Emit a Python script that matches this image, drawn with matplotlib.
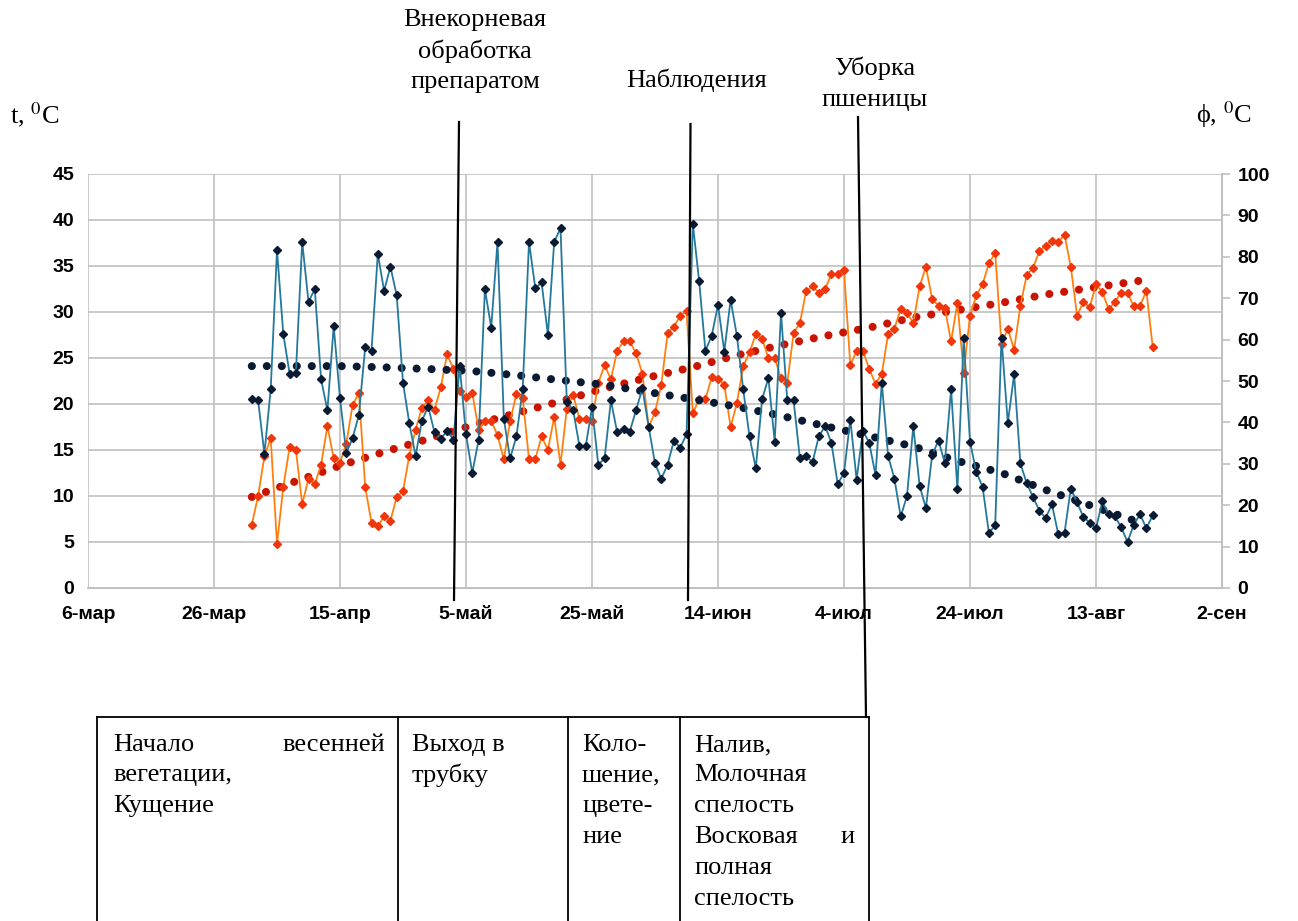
from datetime import date

import numpy as np
import pandas as pd
import matplotlib
matplotlib.use("Agg")
import matplotlib.pyplot as plt
from matplotlib.lines import Line2D

plt.rcParams["font.family"] = ["Liberation Sans", "DejaVu Sans"]
plt.rcParams["mathtext.fontset"] = "stix"

W, H = 1298, 921

# daily observations, 1 Apr .. 22 Aug
start = "2013-04-01"
temp = [6.9, 10.0, 14.3, 16.3, 4.8, 11.0, 15.3, 15.0, 9.1, 11.9, 11.3, 13.4, 17.6, 14.1, 13.6, 15.7,
        19.9, 21.2, 11.0, 7.1, 6.7, 7.8, 7.3, 9.9, 10.5, 14.4, 17.2, 19.6, 20.4, 19.4, 21.8, 25.4,
        23.8, 21.4, 20.8, 21.2, 17.2, 18.2, 18.2, 16.6, 14.0, 18.1, 21.1, 20.6, 14.0, 14.0, 16.5, 15.0,
        18.6, 13.4, 19.5, 21.0, 18.4, 18.4, 18.2, 22.3, 24.2, 22.7, 25.8, 26.8, 26.8, 25.5, 23.3, 17.5,
        19.1, 22.1, 27.7, 28.4, 29.6, 30.1, 19.0, 20.5, 20.5, 22.9, 22.7, 22.1, 17.5, 20.1, 24.1, 25.6,
        27.6, 27.1, 25.0, 25.0, 22.8, 22.3, 27.7, 28.8, 32.3, 32.8, 32.1, 32.5, 34.1, 34.1, 34.6, 24.2,
        25.8, 25.8, 23.8, 22.2, 23.3, 27.6, 28.2, 30.3, 29.9, 28.8, 32.8, 34.9, 31.4, 30.7, 30.4, 26.8,
        31.0, 23.4, 29.6, 31.8, 33.0, 35.3, 36.4, 26.5, 28.2, 25.9, 30.7, 34.0, 34.8, 36.6, 37.2, 37.7,
        37.6, 38.4, 34.9, 29.6, 31.1, 30.5, 33.0, 32.2, 30.3, 31.1, 32.1, 32.1, 30.6, 30.7, 32.3, 26.2]
hum = [45.6, 45.3, 32.4, 48.0, 81.6, 61.3, 51.8, 52.0, 83.6, 69.1, 72.2, 50.4, 42.9, 63.3, 45.8, 32.7,
       36.2, 41.8, 58.2, 57.3, 80.7, 71.8, 77.6, 70.7, 49.6, 39.8, 31.9, 40.4, 43.8, 37.6, 36.0, 38.0,
       35.8, 53.6, 37.1, 27.8, 35.8, 72.2, 62.9, 83.6, 40.9, 31.3, 36.6, 48.0, 83.6, 72.4, 73.8, 61.1,
       83.6, 86.9, 45.0, 43.0, 34.4, 34.2, 43.6, 29.8, 31.3, 45.3, 37.6, 38.3, 37.8, 43.0, 48.2, 38.9,
       30.1, 26.4, 29.8, 35.6, 33.9, 37.1, 88.0, 74.2, 57.3, 60.9, 68.4, 57.1, 69.6, 60.9, 48.0, 36.6,
       28.9, 45.6, 50.7, 35.3, 66.4, 45.3, 45.3, 31.3, 31.8, 30.4, 36.6, 39.1, 35.1, 25.1, 27.8, 40.7,
       26.2, 38.0, 35.1, 27.3, 49.6, 31.9, 26.4, 17.3, 22.2, 39.1, 24.7, 19.3, 32.2, 35.6, 30.2, 48.0,
       23.8, 60.4, 35.3, 28.0, 24.4, 13.3, 15.1, 60.4, 39.8, 51.6, 30.1, 25.3, 22.0, 18.7, 16.9, 20.2,
       13.1, 13.3, 24.0, 20.7, 17.1, 15.8, 14.4, 20.9, 17.8, 17.3, 14.7, 11.1, 15.3, 17.8, 14.4, 17.6]

# long-term norms (day offsets from 1 Apr)
norm_day = [0, 7, 14, 21, 28, 35, 42, 49, 56, 63, 70, 77, 84, 91, 98, 105, 112, 119, 126, 133, 141]
temp_norm = [9.9, 11.6, 13.3, 14.8, 16.2, 17.7, 19.0, 20.3, 21.7, 22.9, 24.0, 25.3, 26.4, 27.4, 28.3,
             29.4, 30.2, 31.0, 31.9, 32.6, 33.4]
hum_norm = [53.6, 53.6, 53.6, 53.3, 52.9, 52.4, 51.4, 50.2, 49.1, 47.3, 45.6, 43.8, 41.6, 39.1, 36.7,
            34.2, 30.7, 27.8, 23.7, 20.0, 15.8]

tick_dates = ["2013-03-06", "2013-03-26", "2013-04-15", "2013-05-05", "2013-05-25",
              "2013-06-14", "2013-07-04", "2013-07-24", "2013-08-13", "2013-09-02"]
tick_labels = ["6-мар", "26-мар", "15-апр", "5-май", "25-май", "14-июн", "4-июл", "24-июл", "13-авг", "2-сен"]

days = pd.date_range(start, periods=len(temp), freq="D")
norm_dates = pd.Timestamp(start) + pd.to_timedelta(norm_day, unit="D")

GRID = "#c0c0c0"
ORANGE = "#ff7f0e"
ORANGE_MK = "#f0360a"
TEAL = "#24789c"
NAVY = "#0b1a33"
DARKRED = "#c81400"
SERIF = ["Liberation Serif", "DejaVu Serif"]


def fx(px):
    return px / W


def fy(py):
    return 1 - py / H


fig = plt.figure(figsize=(W / 100, H / 100), dpi=100, facecolor="white")
ax = fig.add_axes([fx(88), fy(588), fx(1222 - 88), (588 - 174) / H])
ax2 = ax.twinx()

ax.set_xlim(pd.Timestamp("2013-03-06"), pd.Timestamp("2013-09-02"))
ax.set_ylim(0, 45)
ax2.set_ylim(0, 100)
ax.set_yticks(np.arange(0, 46, 5))
ax2.set_yticks(np.arange(0, 101, 10))
ax.set_xticks(pd.to_datetime(tick_dates))
ax.set_xticklabels(tick_labels)

ax.grid(True, color=GRID, lw=1.2)
ax.set_axisbelow(True)
for a in (ax, ax2):
    a.spines["top"].set_visible(False)
    a.spines["left"].set_visible(False)
    for s in ["bottom", "right"]:
        a.spines[s].set_color(GRID)
ax.spines["bottom"].set_linewidth(1.4)
ax2.spines["right"].set_linewidth(1.4)

ax.tick_params(axis="y", length=0, labelsize=14, pad=10)
ax.tick_params(axis="x", length=0, labelsize=14, pad=13)
ax2.tick_params(axis="y", length=6, width=1.2, color=GRID, labelsize=14, pad=5)
for lab in ax.get_xticklabels() + ax.get_yticklabels() + ax2.get_yticklabels():
    lab.set_fontweight("bold")

dot = dict(linestyle=(0, (0.01, 1.85)), dash_capstyle="round", lw=5.8)
ax.plot(norm_dates, temp_norm, color=DARKRED, zorder=3, **dot)
ax.plot(days, temp, color=ORANGE, lw=1.3, marker="D", ms=3.8, mfc=ORANGE_MK, mec=ORANGE_MK, zorder=4)
ax2.plot(norm_dates, hum_norm, color=NAVY, zorder=3, **dot)
ax2.plot(days, hum, color=TEAL, lw=1.3, marker="D", ms=3.8, mfc=NAVY, mec=NAVY, zorder=4)

# axis titles
fig.text(fx(10), fy(115), "t, $^{0}$C", fontsize=19, family=SERIF, va="center", ha="left")
fig.text(fx(1196), fy(115), "ϕ, $^{0}$C", fontsize=19, family=SERIF, va="center", ha="left")

# event markers
fig.text(fx(475), fy(51), "Внекорневая\nобработка\nпрепаратом", fontsize=19, family=SERIF,
         ha="center", va="center", linespacing=1.45)
fig.text(fx(697), fy(80), "Наблюдения", fontsize=19, family=SERIF, ha="center", va="center")
fig.text(fx(875), fy(84), "Уборка\nпшеницы", fontsize=19, family=SERIF, ha="center", va="center",
         linespacing=1.5)
for (x0, y0), (x1, y1) in [((459, 122), (454, 600)), ((690.5, 124), (688, 600)), ((858, 117), (866, 717))]:
    fig.add_artist(Line2D([fx(x0), fx(x1)], [fy(y0), fy(y1)], color="black", lw=1.6))

# phase table
cols = [97, 398, 568, 680, 869]
fig.add_artist(Line2D([fx(cols[0]), fx(cols[-1])], [fy(717), fy(717)], color="black", lw=1.3))
for c in cols:
    fig.add_artist(Line2D([fx(c), fx(c)], [fy(717), fy(921)], color="black", lw=1.3))

ts = dict(fontsize=19, family=SERIF, va="center")
rows = [745, 775, 806, 837, 868, 899]
fig.text(fx(113), fy(rows[0]), "Начало", ha="left", **ts)
fig.text(fx(385), fy(rows[0]), "весенней", ha="right", **ts)
fig.text(fx(113), fy(rows[1]), "вегетации,", ha="left", **ts)
fig.text(fx(113), fy(rows[2]), "Кущение", ha="left", **ts)
for i, t in enumerate(["Выход в", "трубку"]):
    fig.text(fx(412), fy(rows[i]), t, ha="left", **ts)
for i, t in enumerate(["Коло-", "шение,", "цвете-", "ние"]):
    fig.text(fx(582), fy(rows[i]), t, ha="left", **ts)
for i, t in enumerate(["Налив,", "Молочная", "спелость", "Восковая", "полная", "спелость"]):
    fig.text(fx(694), fy(rows[i]), t, ha="left", **ts)
fig.text(fx(855), fy(rows[3]), "и", ha="right", **ts)

fig.savefig("out.png", dpi=100, facecolor="white")
